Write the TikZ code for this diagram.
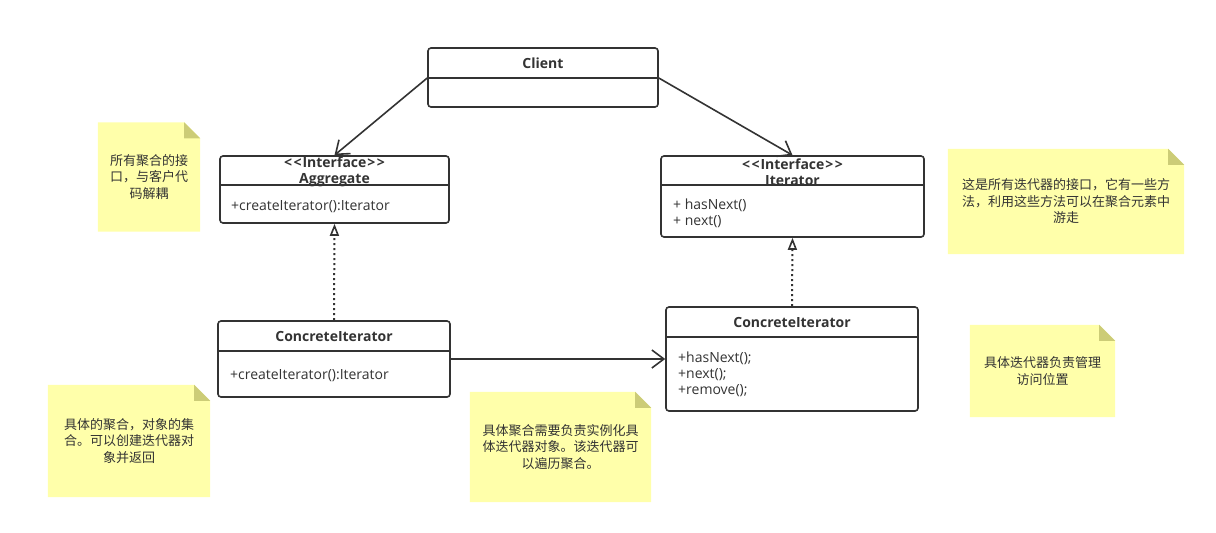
\documentclass[tikz,border=0pt]{standalone}
\usepackage{fontspec}
\setmainfont{Noto Sans CJK SC}
\newfontfamily\umlfont{Open Sans}
\usetikzlibrary{arrows.meta,backgrounds}
\definecolor{ink}{HTML}{333333}
\definecolor{notefill}{HTML}{FFFFAA}
\definecolor{notefold}{HTML}{CCCC77}
\tikzset{
  umlbox/.style={draw=ink, line width=1.6pt, rounded corners=3pt, inner sep=0pt},
  divider/.style={draw=ink, line width=1.6pt},
  umltitle/.style={font=\umlfont\fontsize{14}{16}\selectfont\bfseries, text=ink, inner sep=0pt, align=center},
  member/.style={font=\umlfont\fontsize{14}{16}\selectfont, text=ink, inner sep=0pt, align=left, anchor=west},
  notebox/.style={inner sep=0pt, text=ink, align=center, font=\fontsize{13}{16.5}\selectfont},
  assoc/.style={draw=ink, line width=1.6pt, -{Straight Barb[length=12pt,width=18pt]}},
  realize/.style={draw=ink, line width=2pt, dash pattern=on 2pt off 3pt, -{Triangle[open,length=12pt,width=9pt,line width=1.6pt,fill=white,sep=0pt]}},
}
\newcommand\foldnote[2][16pt]{%
  \fill[notefill] (#2.south west) -- (#2.north west) -- ([xshift=-#1]#2.north east) -- ([yshift=-#1]#2.north east) -- (#2.south east) -- cycle;
  \fill[notefold] ([xshift=-#1]#2.north east) -- ([yshift=-#1]#2.north east) -- ([xshift=-#1,yshift=-#1]#2.north east) -- cycle;
}
\newcommand\stereo{<\kern1.5pt<\kern1pt Interface\kern1pt>\kern1.5pt>}
\begin{document}
\begin{tikzpicture}[x=1pt,y=-1pt]
\useasboundingbox (0,0) rectangle (1216,533);

% UML boxes
\node[umlbox, minimum width=230pt, minimum height=59pt] (client) at (543,77.5) {};
\node[umlbox, minimum width=229pt, minimum height=67pt] (agg) at (334.5,189.5) {};
\node[umlbox, minimum width=263pt, minimum height=81pt] (iter) at (792.5,196.5) {};
\node[umlbox, minimum width=232pt, minimum height=76pt] (ci1) at (334,359) {};
\node[umlbox, minimum width=252pt, minimum height=104pt] (ci2) at (792,359) {};

\draw[divider] (client.west |- 0,78) -- (client.east |- 0,78);
\draw[divider] (agg.west |- 0,185) -- (agg.east |- 0,185);
\draw[divider] (iter.west |- 0,185) -- (iter.east |- 0,185);
\draw[divider] (ci1.west |- 0,351) -- (ci1.east |- 0,351);
\draw[divider] (ci2.west |- 0,337) -- (ci2.east |- 0,337);

\node[umltitle] (clientT) at (543,63) {Client};
\node[umltitle] (aggT) at (334.5,172) {\stereo\\Aggregate};
\node[umltitle] (iterT) at (792.5,172) {\stereo\\Iterator};
\node[umltitle] (ci1T) at (334,336) {ConcreteIterator};
\node[umltitle] (ci2T) at (792,322) {ConcreteIterator};

\node[member] (aggM) at (231,206.5) {+createIterator():Iterator};
\node[member] (iterM) at (673,213.5) {+ hasNext()\\+ next()};
\node[member] (ci1M) at (230,375.5) {+createIterator():Iterator};
\node[member] (ci2M) at (678,374.5) {+hasNext();\\+next();\\+remove();};

% connectors
\coordinate (clL) at (client.west |- 0,78);
\coordinate (clR) at (client.east |- 0,78);
\draw[assoc] (clL) -- (agg.north);
\draw[assoc] (clR) -- (iter.north);
\draw[realize] (ci1.north) -- (agg.south);
\draw[realize] (ci2.north) -- (iter.south);
\draw[assoc] (ci1.east) -- (ci2.west);

% notes
\node[notebox, minimum width=102pt, minimum height=109pt] (n1) at (149,177) {所有聚合的接\\口，与客户代\\码解耦};
\node[notebox, minimum width=236pt, minimum height=105pt] (n2) at (1066,201.5) {这是所有迭代器的接口，它有一些方\\法，利用这些方法可以在聚合元素中\\游走};
\node[notebox, minimum width=162pt, minimum height=112pt] (n3) at (129,441) {具体的聚合，对象的集\\合。可以创建迭代器对\\象并返回};
\node[notebox, minimum width=181pt, minimum height=110pt] (n4) at (560.5,447) {具体聚合需要负责实例化具\\体迭代器对象。该迭代器可\\以遍历聚合。};
\node[notebox, minimum width=145pt, minimum height=92pt] (n5) at (1042.5,371) {具体迭代器负责管理\\访问位置};

\begin{scope}[on background layer]
\fill[white] (0,0) rectangle (1216,533);
\foldnote{n1}
\foldnote{n2}
\foldnote{n3}
\foldnote{n4}
\foldnote{n5}
\end{scope}
\end{tikzpicture}
\end{document}
